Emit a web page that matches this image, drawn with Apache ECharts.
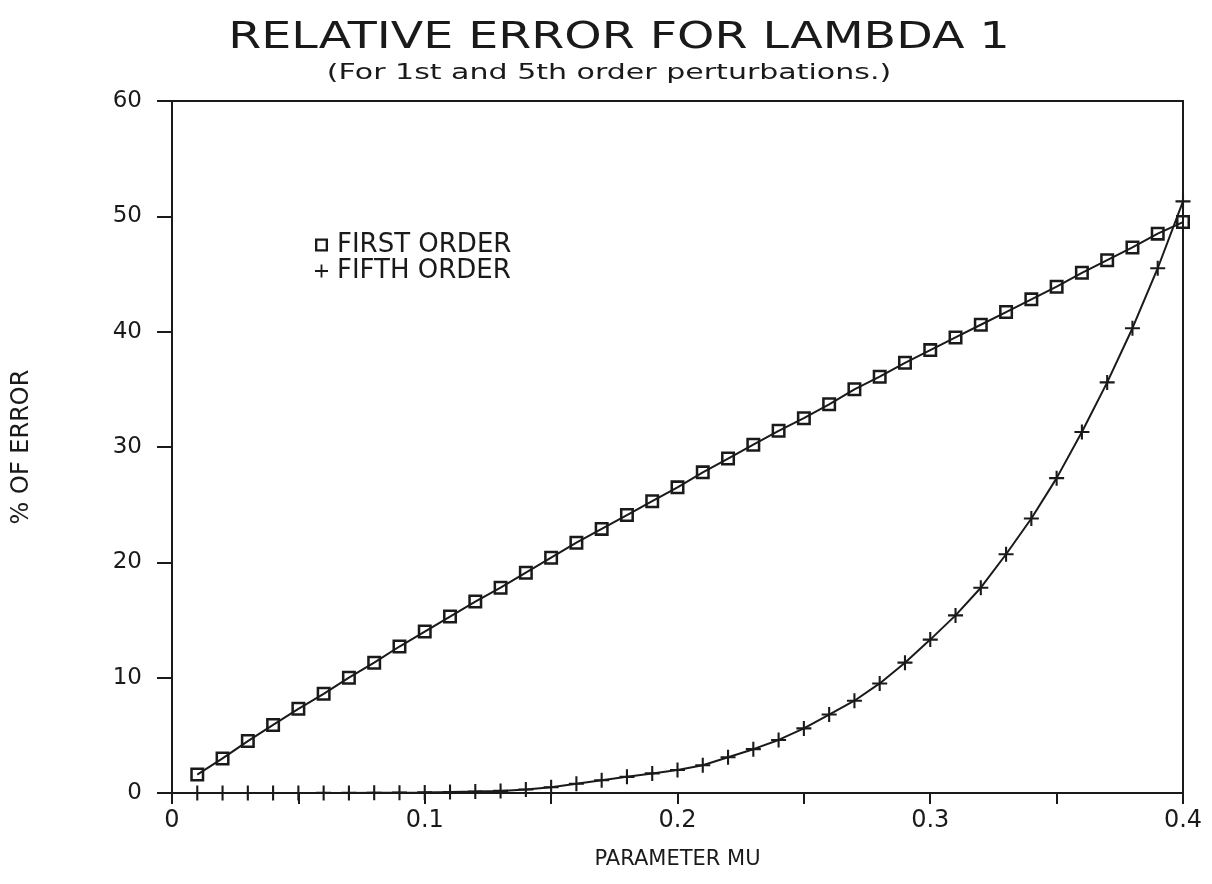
<!DOCTYPE html>
<html>
<head>
<meta charset="utf-8">
<title>Relative error for lambda 1</title>
<script src="https://cdn.jsdelivr.net/npm/echarts@6/dist/echarts.min.js"></script>
<style>
  html, body { margin: 0; padding: 0; background: #fff; }
  #chart { width: 1212px; height: 884px; }
</style>
</head>
<body>
<div id="chart"></div>
<script>
// parameter mu, 0.01 .. 0.40
const mu = [
  0.01, 0.02, 0.03, 0.04, 0.05, 0.06, 0.07, 0.08, 0.09, 0.10,
  0.11, 0.12, 0.13, 0.14, 0.15, 0.16, 0.17, 0.18, 0.19, 0.20,
  0.21, 0.22, 0.23, 0.24, 0.25, 0.26, 0.27, 0.28, 0.29, 0.30,
  0.31, 0.32, 0.33, 0.34, 0.35, 0.36, 0.37, 0.38, 0.39, 0.40
]

// % of error
const firstOrder = [
  1.6, 3.0, 4.5, 5.9, 7.3, 8.6, 10.0, 11.3, 12.7, 14.0,
  15.3, 16.6, 17.8, 19.1, 20.4, 21.7, 22.9, 24.1, 25.3, 26.5,
  27.8, 29.0, 30.2, 31.4, 32.5, 33.7, 35.0, 36.1, 37.3, 38.4,
  39.5, 40.6, 41.7, 42.8, 43.9, 45.1, 46.2, 47.3, 48.5, 49.5
]

const fifthOrder = [
  0.0, 0.0, 0.0, 0.0, 0.0, 0.01, 0.01, 0.02, 0.03, 0.05,
  0.08, 0.12, 0.18, 0.3, 0.5, 0.8, 1.1, 1.4, 1.7, 2.0,
  2.4, 3.1, 3.8, 4.6, 5.6, 6.8, 8.0, 9.5, 11.3, 13.3,
  15.4, 17.8, 20.7, 23.8, 27.3, 31.3, 35.6, 40.3, 45.5, 51.3
]

const xTicks = [0, 0.1, 0.2, 0.3, 0.4]
const yTicks = [0, 10, 20, 30, 40, 50, 60]

const ink = '#1a1a1a'
const font = '"DejaVu Sans", "Liberation Sans", sans-serif'

// hollow square and plus as filled paths
const squareIcon = 'path://M0,0H10V10H0Z M1.8,1.8V8.2H8.2V1.8Z'
const plusIcon = 'path://M4.3,0H5.7V4.3H10V5.7H5.7V10H4.3V5.7H0V4.3H4.3Z'

const chart = echarts.init(document.getElementById('chart'))

chart.setOption({
  backgroundColor: '#fff',
  animation: false,
  grid: {
    left: 172,
    right: 29,
    top: 101,
    bottom: 91,
    show: true,
    borderColor: ink,
    borderWidth: 2
  },
  legend: {
    orient: 'vertical',
    left: 310,
    top: 227,
    itemWidth: 13,
    itemHeight: 13,
    itemGap: 0,
    textStyle: { color: ink, fontSize: 26, lineHeight: 21, fontFamily: font, padding: [0, 0, 0, 4] },
    data: [
      { name: 'FIRST ORDER', icon: squareIcon },
      { name: 'FIFTH ORDER', icon: plusIcon }
    ]
  },
  graphic: [
    {
      type: 'text',
      x: 619,
      y: 38,
      scaleX: 1.25,
      style: {
        text: 'RELATIVE ERROR FOR LAMBDA 1',
        font: '38px ' + font,
        fill: ink,
        textAlign: 'center',
        textVerticalAlign: 'middle'
      }
    },
    {
      type: 'text',
      x: 609,
      y: 74,
      scaleX: 1.43,
      style: {
        text: '(For 1st and 5th order perturbations.)',
        font: '21px ' + font,
        fill: ink,
        textAlign: 'center',
        textVerticalAlign: 'middle'
      }
    }
  ],
  xAxis: {
    type: 'value',
    min: 0,
    max: 0.4,
    interval: 0.05,
    name: 'PARAMETER MU',
    nameLocation: 'middle',
    nameGap: 56,
    nameTextStyle: { color: ink, fontSize: 21, fontFamily: font },
    axisLine: { lineStyle: { color: ink, width: 2 } },
    axisTick: { inside: false, length: 11, lineStyle: { color: ink, width: 2 } },
    splitLine: { show: false },
    axisLabel: {
      color: ink,
      fontSize: 24,
      fontFamily: font,
      margin: 16,
      formatter: (v) => {
        const hit = xTicks.find((t) => Math.abs(t - v) < 1e-9)
        return hit === undefined ? '' : (hit === 0 ? '0' : hit.toFixed(1))
      }
    }
  },
  yAxis: {
    type: 'value',
    min: 0,
    max: 60,
    interval: 10,
    name: '% OF ERROR',
    nameLocation: 'middle',
    nameRotate: 90,
    nameGap: 138,
    nameTextStyle: { color: ink, fontSize: 24, fontFamily: font },
    axisLine: { show: true, lineStyle: { color: ink, width: 2 } },
    axisTick: { show: true, inside: false, length: 15, lineStyle: { color: ink, width: 2 } },
    splitLine: { show: false },
    axisLabel: {
      color: ink,
      fontSize: 23,
      fontFamily: font,
      margin: 30,
      formatter: (v) => (yTicks.includes(v) ? String(v) : '')
    }
  },
  series: [
    {
      name: 'FIRST ORDER',
      type: 'line',
      data: mu.map((m, i) => [m, firstOrder[i]]),
      symbol: squareIcon,
      symbolSize: 14,
      lineStyle: { color: ink, width: 2 },
      itemStyle: { color: ink },
      z: 3
    },
    {
      name: 'FIFTH ORDER',
      type: 'line',
      data: mu.map((m, i) => [m, fifthOrder[i]]),
      symbol: plusIcon,
      symbolSize: 15,
      lineStyle: { color: ink, width: 2 },
      itemStyle: { color: ink },
      z: 3
    }
  ]
})

window.addEventListener('resize', () => chart.resize())
</script>
</body>
</html>
